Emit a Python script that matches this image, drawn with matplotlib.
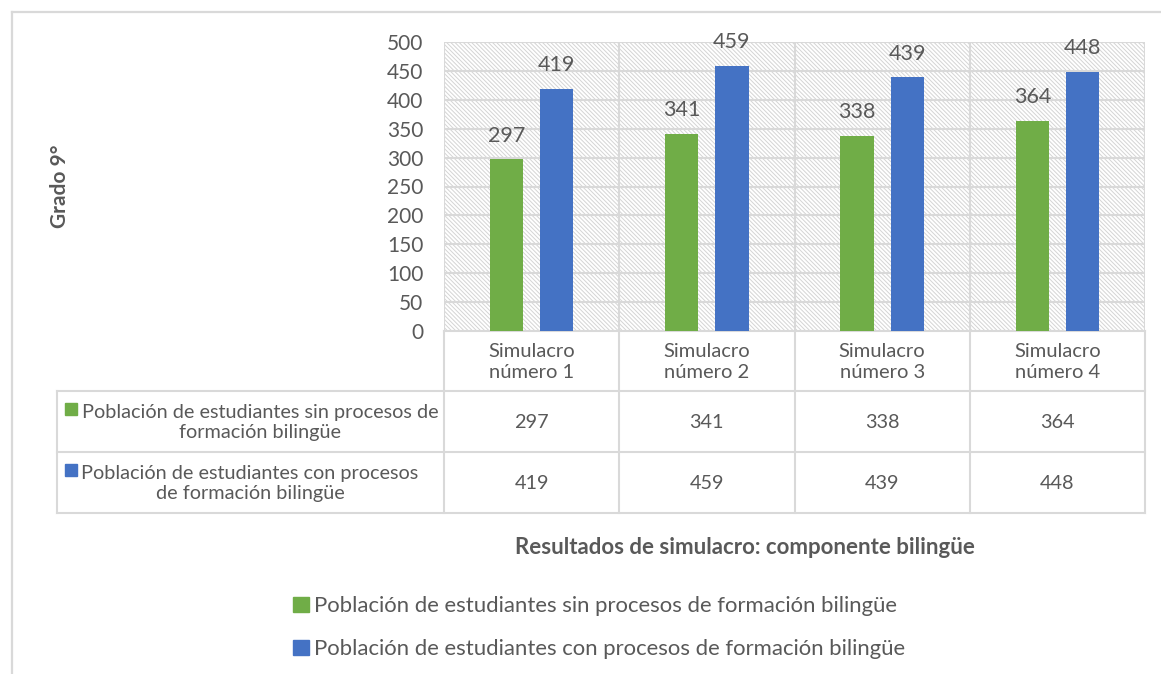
import matplotlib.pyplot as plt
from matplotlib.patches import Rectangle
import numpy as np

plt.rcParams['font.family'] = ['Lato', 'DejaVu Sans']
plt.rcParams['hatch.linewidth'] = 0.7

categorias = ["Simulacro\nnúmero 1", "Simulacro\nnúmero 2", "Simulacro\nnúmero 3", "Simulacro\nnúmero 4"]
series = ["Población de estudiantes sin procesos de formación bilingüe",
          "Población de estudiantes con procesos de formación bilingüe"]
series_tabla = ["Población de estudiantes sin procesos de\nformación bilingüe",
                "Población de estudiantes con procesos\nde formación bilingüe"]
sin_bilingue = [297, 341, 338, 364]
con_bilingue = [419, 459, 439, 448]
yticks = [0, 50, 100, 150, 200, 250, 300, 350, 400, 450, 500]
titulo = "Resultados de simulacro: componente bilingüe"
ylabel = "Grado 9°"

verde = "#70AD47"
azul = "#4472C4"
gris_txt = "#595959"
gris_lin = "#D9D9D9"

W, H = 1161, 674
fig = plt.figure(figsize=(W / 100, H / 100), dpi=100)

# pixel layout
px_left, px_right, px_top, px_bot = 444, 1145, 42, 331
ax = fig.add_axes([px_left / W, 1 - px_bot / H, (px_right - px_left) / W, (px_bot - px_top) / H])

n = len(categorias)
x = np.arange(n)
ax.set_xlim(-0.5, n - 0.5)
ax.set_ylim(0, 500)

# hatched plot area
ax.add_patch(Rectangle((0, 0), 1, 1, transform=ax.transAxes, facecolor="white",
                       edgecolor="#D4D4D4", hatch="\\" * 8, linewidth=0, zorder=0))

for v in yticks:
    ax.axhline(v, color=gris_lin, lw=1.5, zorder=1)
for b in np.arange(-0.5, n, 1.0):
    ax.axvline(b, color=gris_lin, lw=1.5, zorder=1)

off = 0.143
bw = 0.19
b1 = ax.bar(x - off, sin_bilingue, bw, color=verde, zorder=3)
b2 = ax.bar(x + off, con_bilingue, bw, color=azul, zorder=3)
for bars, vals in ((b1, sin_bilingue), (b2, con_bilingue)):
    for r, v in zip(bars, vals):
        ax.annotate(str(v), (r.get_x() + r.get_width() / 2, v), xytext=(0, 17),
                    textcoords="offset points", ha="center", va="center",
                    fontsize=15.5, color=gris_txt, zorder=4)

ax.set_yticks(yticks)
ax.set_yticklabels([str(v) for v in yticks], fontsize=15, color=gris_txt)
ax.tick_params(axis="y", length=0, pad=15)
ax.set_xticks([])
for s in ax.spines.values():
    s.set_visible(False)

# overlay in pixel coordinates for the data table and frame
ov = fig.add_axes([0, 0, 1, 1], zorder=-1)
ov.set_xlim(0, W)
ov.set_ylim(H, 0)
ov.axis("off")

# outer chart border (top and left)
ov.plot([12, 12], [12, H], color=gris_lin, lw=1.6)
ov.plot([12, W], [12, 12], color=gris_lin, lw=1.6)

col_w = (px_right - px_left) / n
tab_left = 57
row_y = [px_bot, 391, 452, 513]
tcol = "#D9D9D9"
ov.plot([px_left, px_right], [row_y[0], row_y[0]], color=tcol, lw=1.5)
for yy in row_y[1:]:
    ov.plot([tab_left, px_right], [yy, yy], color=tcol, lw=1.5)
for i in range(n + 1):
    xx = px_left + i * col_w
    ov.plot([xx, xx], [row_y[0], row_y[3]], color=tcol, lw=1.5)
ov.plot([tab_left, tab_left], [row_y[1], row_y[3]], color=tcol, lw=1.5)

for i, c in enumerate(categorias):
    ov.text(px_left + (i + 0.5) * col_w, (row_y[0] + row_y[1]) / 2 + 1, c, ha="center",
            va="center", fontsize=14.5, color=gris_txt, linespacing=1.35)

for r, (lab, vals, col) in enumerate(zip(series_tabla, (sin_bilingue, con_bilingue), (verde, azul))):
    yc = (row_y[r + 1] + row_y[r + 2]) / 2
    ov.add_patch(Rectangle((65, yc - 19), 12, 12, color=col))
    ov.text(250 if r else 260, yc + 1, lab, ha="center", va="center", multialignment="center",
            fontsize=14.3, color=gris_txt, linespacing=1.2)
    for i, v in enumerate(vals):
        ov.text(px_left + (i + 0.5) * col_w, yc + 1, str(v), ha="center", va="center",
                fontsize=14.3, color=gris_txt)

ov.text(745, 547, titulo, ha="center", va="center", fontsize=16, fontweight="bold", color=gris_txt)
ov.text(60, 186, ylabel, ha="center", va="center", rotation=90, fontsize=15,
        fontweight="bold", color=gris_txt)

handles = [Rectangle((0, 0), 1, 1, color=verde), Rectangle((0, 0), 1, 1, color=azul)]
fig.legend(handles, series, loc="upper left", bbox_to_anchor=(282 / W, 1 - 585 / H),
           frameon=False, fontsize=15.9, labelcolor=gris_txt, handlelength=0.7,
           handleheight=0.7, handletextpad=0.25, labelspacing=1.05, borderpad=0)

fig.savefig("out.png", dpi=100)
